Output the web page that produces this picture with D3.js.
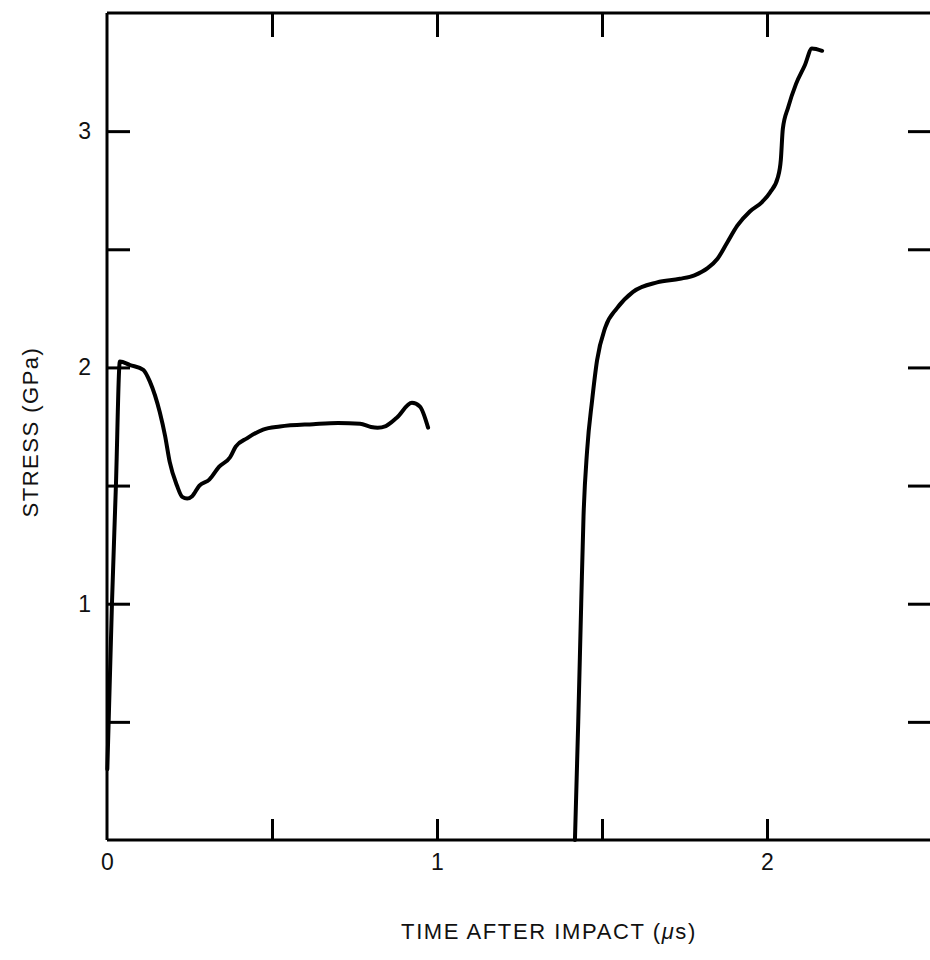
<!DOCTYPE html>
<html><head><meta charset="utf-8">
<script src="https://cdn.jsdelivr.net/npm/d3@7/dist/d3.min.js"></script>
<style>
html,body{margin:0;padding:0;background:#fff;}
svg{display:block;}
</style></head>
<body>
<script>
// Data
const early_time   = [0.001, 0.015, 0.027, 0.039, 0.07, 0.11, 0.13, 0.16, 0.176, 0.19, 0.212, 0.228, 0.243, 0.258, 0.28, 0.31, 0.34, 0.373, 0.39, 0.424, 0.473, 0.524, 0.625, 0.7, 0.767, 0.8, 0.82, 0.845, 0.878, 0.924, 0.948, 0.973];
const early_stress = [0.3, 1.0, 1.5, 2.025, 2.01, 1.99, 1.94, 1.81, 1.71, 1.60, 1.50, 1.452, 1.445, 1.455, 1.50, 1.525, 1.58, 1.62, 1.665, 1.70, 1.737, 1.75, 1.76, 1.765, 1.762, 1.748, 1.745, 1.752, 1.787, 1.85, 1.835, 1.745];
const late_time    = [1.418, 1.428, 1.437, 1.444, 1.455, 1.47, 1.485, 1.51, 1.545, 1.594, 1.667, 1.736, 1.78, 1.82, 1.85, 1.88, 1.91, 1.948, 1.985, 2.009, 2.033, 2.042, 2.048, 2.064, 2.088, 2.115, 2.136, 2.167];
const late_stress  = [0.0, 0.5, 1.0, 1.37, 1.65, 1.86, 2.03, 2.17, 2.25, 2.32, 2.36, 2.375, 2.39, 2.42, 2.46, 2.53, 2.60, 2.66, 2.70, 2.74, 2.805, 2.88, 3.01, 3.10, 3.20, 3.28, 3.35, 3.34];
const xTickLabels = [0, 1, 2];
const yTickLabels = [1, 2, 3];
const xMinorTicks = [0.5, 1, 1.5, 2];
const yMinorTicks = [0.5, 1, 1.5, 2, 2.5, 3];

const FONT = "'Liberation Sans', Arial, Helvetica, sans-serif";
const W = 930, H = 960;
const svg = d3.select("body").append("svg").attr("width", W).attr("height", H);
const x = d3.scaleLinear().domain([0, 2.5]).range([107, 932]);
const y = d3.scaleLinear().domain([0, 3.5]).range([840, 13]);

// frame
const frame = svg.append("g").attr("fill","none").attr("stroke","#000").attr("stroke-width",3);
frame.append("line").attr("x1",x(0)).attr("x2",x(2.5)).attr("y1",y(0)).attr("y2",y(0));
frame.append("line").attr("x1",x(0)).attr("x2",x(2.5)).attr("y1",y(3.5)).attr("y2",y(3.5));
frame.append("line").attr("x1",x(0)).attr("x2",x(0)).attr("y1",y(0)).attr("y2",y(3.5));
frame.append("line").attr("x1",x(2.5)).attr("x2",x(2.5)).attr("y1",y(0)).attr("y2",y(3.5));

function styleTicks(g){
  g.select(".domain").remove();
  g.selectAll(".tick line").attr("stroke","#000").attr("stroke-width",3);
}
// inward ticks
svg.append("g").attr("transform",`translate(0,${y(0)})`)
  .call(d3.axisBottom(x).tickValues(xMinorTicks).tickSizeInner(-21).tickSizeOuter(0).tickFormat(""))
  .call(styleTicks);
svg.append("g").attr("transform",`translate(0,${y(3.5)})`)
  .call(d3.axisTop(x).tickValues(xMinorTicks).tickSizeInner(-24).tickSizeOuter(0).tickFormat(""))
  .call(styleTicks);
svg.append("g").attr("transform",`translate(${x(0)},0)`)
  .call(d3.axisLeft(y).tickValues(yMinorTicks).tickSizeInner(-23).tickSizeOuter(0).tickFormat(""))
  .call(styleTicks);
svg.append("g").attr("transform",`translate(${x(2.5)},0)`)
  .call(d3.axisRight(y).tickValues(yMinorTicks).tickSizeInner(-24).tickSizeOuter(0).tickFormat(""))
  .call(styleTicks);

// labels
const xl = svg.append("g").attr("transform",`translate(0,${y(0)})`)
  .call(d3.axisBottom(x).tickValues(xTickLabels).tickSize(0).tickPadding(14).tickFormat(d3.format("d")));
xl.select(".domain").remove();
xl.attr("font-size",null).attr("font-family",null);
xl.selectAll("text").style("font-size","23px").style("font-family",FONT).style("fill","#111");
const yl = svg.append("g").attr("transform",`translate(${x(0)},0)`)
  .call(d3.axisLeft(y).tickValues(yTickLabels).tickSize(0).tickPadding(16).tickFormat(d3.format("d")));
yl.select(".domain").remove();
yl.attr("font-size",null).attr("font-family",null);
yl.selectAll("text").style("font-size","23px").style("font-family",FONT).style("fill","#111");

// axis titles
const xt = svg.append("text").attr("x",549).attr("y",939).attr("text-anchor","middle")
  .style("font-size","22px").style("font-family",FONT).style("fill","#111").attr("letter-spacing","1.6px");
xt.append("tspan").text("TIME AFTER IMPACT (");
xt.append("tspan").attr("font-style","italic").text("\u03bc");
xt.append("tspan").text("s)");
svg.append("text").attr("transform","translate(38,432) rotate(-90)").attr("text-anchor","middle")
  .style("font-size","22px").style("font-family",FONT).style("fill","#111").attr("letter-spacing","1.5px").text("STRESS (GPa)");

// curves
const line = d3.line().x(d=>x(d[0])).y(d=>y(d[1])).curve(d3.curveMonotoneX);
const early = early_time.map((t,i)=>[t, early_stress[i]]);
const late  = late_time.map((t,i)=>[t, late_stress[i]]);
svg.append("path").datum(early).attr("d",line).attr("fill","none").attr("stroke","#000").attr("stroke-width",4).attr("stroke-linejoin","round").attr("stroke-linecap","round");
svg.append("path").datum(late).attr("d",line).attr("fill","none").attr("stroke","#000").attr("stroke-width",4).attr("stroke-linejoin","round").attr("stroke-linecap","round");
</script>
</body></html>
